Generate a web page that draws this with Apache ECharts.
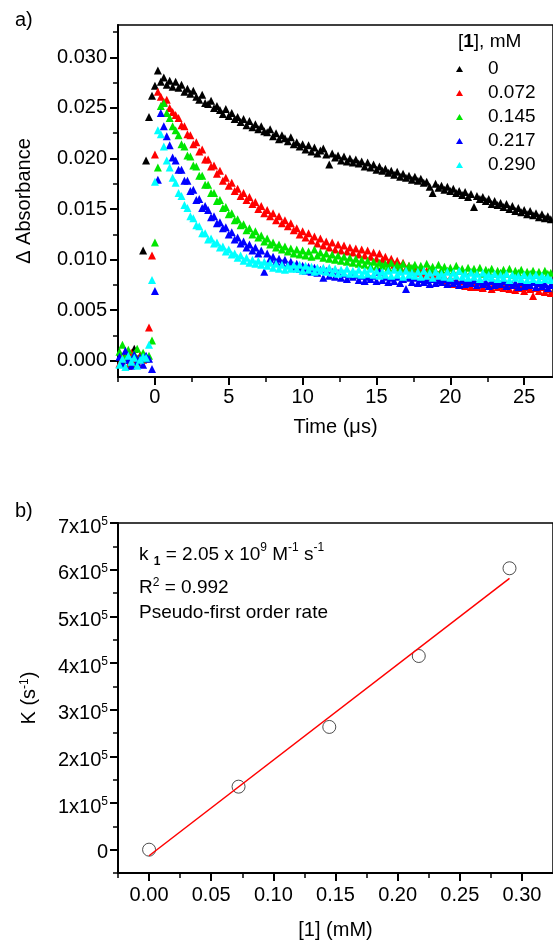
<!DOCTYPE html>
<html><head><meta charset="utf-8">
<script src="https://cdn.jsdelivr.net/npm/echarts@6/dist/echarts.min.js"></script>
<style>html,body{margin:0;padding:0;background:#fff}#c{width:553px;height:941px}</style>
</head><body><div id="c"></div>
<script>
// ---------- Panel a) transient absorbance ----------
const time = [
-2.4,-2.2,-2.0,-1.8,-1.6,-1.4,-1.2,-1.0,-0.8,-0.6,
-0.4,-0.2,0.0,0.2,0.4,0.6,0.8,1.0,1.2,1.4,
1.6,1.8,2.0,2.2,2.4,2.6,2.8,3.0,3.2,3.4,
3.6,3.8,4.0,4.2,4.4,4.6,4.8,5.0,5.2,5.4,
5.6,5.8,6.0,6.2,6.4,6.6,6.8,7.0,7.2,7.4,
7.6,7.8,8.0,8.2,8.4,8.6,8.8,9.0,9.2,9.4,
9.6,9.8,10.0,10.2,10.4,10.6,10.8,11.0,11.2,11.4,
11.6,11.8,12.0,12.2,12.4,12.6,12.8,13.0,13.2,13.4,
13.6,13.8,14.0,14.2,14.4,14.6,14.8,15.0,15.2,15.4,
15.6,15.8,16.0,16.2,16.4,16.6,16.8,17.0,17.2,17.4,
17.6,17.8,18.0,18.2,18.4,18.6,18.8,19.0,19.2,19.4,
19.6,19.8,20.0,20.2,20.4,20.6,20.8,21.0,21.2,21.4,
21.6,21.8,22.0,22.2,22.4,22.6,22.8,23.0,23.2,23.4,
23.6,23.8,24.0,24.2,24.4,24.6,24.8,25.0,25.2,25.4,
25.6,25.8,26.0,26.2,26.4,26.6,26.8];

const abs_0 = [
0.0003,-0.0002,0.0006,0.0001,-0.0004,0.0012,0.0002,0.0005,0.0109,0.0198,
0.0241,0.0262,0.0272,0.0287,0.0276,0.0280,0.0273,0.0277,0.0271,0.0276,
0.0270,0.0273,0.0266,0.0269,0.0264,0.0267,0.0261,0.0258,0.0263,0.0255,
0.0254,0.0257,0.0250,0.0252,0.0248,0.0244,0.0249,0.0242,0.0245,0.0239,
0.0241,0.0236,0.0239,0.0233,0.0237,0.0231,0.0234,0.0229,0.0232,0.0227,
0.0226,0.0229,0.0222,0.0225,0.0219,0.0223,0.0220,0.0217,0.0221,0.0214,
0.0216,0.0212,0.0214,0.0209,0.0213,0.0207,0.0211,0.0205,0.0208,0.0210,
0.0204,0.0194,0.0205,0.0201,0.0203,0.0198,0.0202,0.0197,0.0200,0.0196,
0.0199,0.0195,0.0197,0.0192,0.0196,0.0191,0.0194,0.0189,0.0192,0.0188,
0.0190,0.0186,0.0188,0.0184,0.0187,0.0182,0.0185,0.0181,0.0183,0.0179,
0.0182,0.0178,0.0180,0.0176,0.0177,0.0172,0.0166,0.0175,0.0171,0.0173,
0.0169,0.0172,0.0168,0.0170,0.0166,0.0168,0.0164,0.0167,0.0162,0.0165,
0.0152,0.0163,0.0160,0.0162,0.0158,0.0160,0.0155,0.0158,0.0154,0.0156,
0.0152,0.0155,0.0150,0.0153,0.0148,0.0151,0.0147,0.0149,0.0145,0.0148,
0.0144,0.0146,0.0142,0.0145,0.0141,0.0143,0.0140];

const abs_072 = [
-0.0003,0.0004,0.0001,-0.0005,0.0008,0.0002,-0.0002,0.0005,0.0001,0.0004,
0.0033,0.0104,0.0204,0.0266,0.0261,0.0256,0.0258,0.0250,0.0246,0.0243,
0.0240,0.0233,0.0232,0.0224,0.0223,0.0214,0.0216,0.0207,0.0209,0.0199,
0.0199,0.0192,0.0193,0.0185,0.0188,0.0178,0.0181,0.0173,0.0176,0.0168,
0.0170,0.0163,0.0166,0.0159,0.0162,0.0155,0.0157,0.0150,0.0153,0.0146,
0.0149,0.0143,0.0146,0.0139,0.0143,0.0136,0.0139,0.0133,0.0136,0.0129,
0.0131,0.0125,0.0128,0.0122,0.0126,0.0119,0.0123,0.0116,0.0121,0.0114,
0.0118,0.0112,0.0117,0.0110,0.0115,0.0109,0.0114,0.0108,0.0112,0.0107,
0.0111,0.0105,0.0110,0.0104,0.0109,0.0103,0.0107,0.0101,0.0106,0.0100,
0.0103,0.0097,0.0101,0.0095,0.0099,0.0093,0.0097,0.0091,0.0094,0.0089,
0.0092,0.0087,0.0090,0.0085,0.0089,0.0083,0.0086,0.0081,0.0085,0.0080,
0.0083,0.0078,0.0082,0.0076,0.0080,0.0075,0.0079,0.0074,0.0078,0.0073,
0.0077,0.0073,0.0078,0.0072,0.0076,0.0074,0.0071,0.0077,0.0073,0.0075,
0.0072,0.0076,0.0071,0.0075,0.0070,0.0074,0.0072,0.0069,0.0073,0.0071,
0.0064,0.0072,0.0069,0.0073,0.0068,0.0071,0.0067];

const abs_145 = [
0.0009,0.0016,0.0004,0.0011,-0.0002,0.0007,0.0012,0.0003,0.0008,0.0002,
0.0005,0.0020,0.0117,0.0191,0.0252,0.0255,0.0245,0.0240,0.0232,0.0228,
0.0223,0.0214,0.0212,0.0203,0.0202,0.0193,0.0192,0.0183,0.0183,0.0174,
0.0174,0.0166,0.0166,0.0158,0.0159,0.0151,0.0152,0.0145,0.0146,0.0139,
0.0140,0.0134,0.0135,0.0129,0.0131,0.0125,0.0128,0.0122,0.0124,0.0118,
0.0121,0.0115,0.0117,0.0112,0.0115,0.0110,0.0113,0.0108,0.0111,0.0106,
0.0110,0.0105,0.0109,0.0104,0.0108,0.0103,0.0110,0.0104,0.0107,0.0102,
0.0106,0.0101,0.0105,0.0100,0.0104,0.0099,0.0103,0.0098,0.0102,0.0097,
0.0101,0.0096,0.0100,0.0095,0.0099,0.0094,0.0098,0.0093,0.0097,0.0094,
0.0096,0.0092,0.0097,0.0091,0.0095,0.0092,0.0096,0.0090,0.0094,0.0092,
0.0095,0.0090,0.0094,0.0089,0.0096,0.0091,0.0093,0.0089,0.0095,0.0090,
0.0093,0.0089,0.0092,0.0088,0.0094,0.0089,0.0091,0.0087,0.0092,0.0088,
0.0091,0.0087,0.0092,0.0086,0.0090,0.0088,0.0091,0.0086,0.0089,0.0087,
0.0090,0.0086,0.0091,0.0085,0.0089,0.0087,0.0090,0.0085,0.0088,0.0086,
0.0089,0.0085,0.0088,0.0084,0.0089,0.0086,0.0087];

const abs_217 = [
0.0004,-0.0003,0.0010,0.0001,-0.0005,0.0006,-0.0001,0.0003,-0.0004,0.0005,
0.0002,-0.0008,0.0069,0.0179,0.0245,0.0232,0.0222,0.0213,0.0201,0.0198,
0.0189,0.0189,0.0178,0.0178,0.0168,0.0169,0.0159,0.0160,0.0151,0.0153,
0.0149,0.0142,0.0143,0.0136,0.0137,0.0131,0.0132,0.0125,0.0127,0.0120,
0.0122,0.0116,0.0118,0.0112,0.0115,0.0109,0.0112,0.0106,0.0109,0.0088,
0.0106,0.0101,0.0103,0.0098,0.0101,0.0097,0.0100,0.0095,0.0098,0.0093,
0.0096,0.0091,0.0094,0.0089,0.0093,0.0088,0.0092,0.0087,0.0090,0.0082,
0.0089,0.0084,0.0088,0.0083,0.0087,0.0082,0.0086,0.0081,0.0085,0.0083,
0.0085,0.0080,0.0084,0.0079,0.0083,0.0081,0.0084,0.0079,0.0088,0.0080,
0.0083,0.0078,0.0082,0.0079,0.0083,0.0077,0.0081,0.0071,0.0082,0.0078,
0.0082,0.0077,0.0081,0.0078,0.0080,0.0076,0.0081,0.0077,0.0080,0.0078,
0.0081,0.0076,0.0080,0.0077,0.0079,0.0075,0.0080,0.0076,0.0079,0.0077,
0.0080,0.0075,0.0079,0.0076,0.0078,0.0074,0.0079,0.0075,0.0078,0.0076,
0.0079,0.0074,0.0078,0.0075,0.0077,0.0073,0.0078,0.0074,0.0077,0.0075,
0.0078,0.0073,0.0077,0.0074,0.0076,0.0072,0.0075];

const abs_290 = [
-0.0004,0.0002,-0.0006,0.0005,-0.0001,0.0003,-0.0005,0.0001,0.0004,0.0003,
0.0016,0.0080,0.0177,0.0228,0.0224,0.0212,0.0198,0.0191,0.0181,0.0176,
0.0166,0.0163,0.0154,0.0151,0.0143,0.0141,0.0134,0.0133,0.0126,0.0126,
0.0120,0.0121,0.0116,0.0117,0.0112,0.0113,0.0108,0.0110,0.0105,0.0106,
0.0102,0.0104,0.0099,0.0102,0.0097,0.0100,0.0096,0.0099,0.0095,0.0098,
0.0094,0.0097,0.0092,0.0096,0.0091,0.0095,0.0090,0.0094,0.0091,0.0095,
0.0091,0.0095,0.0089,0.0094,0.0090,0.0093,0.0088,0.0092,0.0089,0.0092,
0.0088,0.0092,0.0087,0.0091,0.0086,0.0090,0.0087,0.0091,0.0086,0.0089,
0.0086,0.0090,0.0085,0.0089,0.0086,0.0091,0.0085,0.0089,0.0084,0.0088,
0.0085,0.0089,0.0084,0.0090,0.0085,0.0088,0.0083,0.0089,0.0085,0.0087,
0.0084,0.0088,0.0083,0.0089,0.0084,0.0087,0.0082,0.0088,0.0084,0.0086,
0.0083,0.0088,0.0082,0.0087,0.0084,0.0089,0.0083,0.0086,0.0082,0.0087,
0.0083,0.0086,0.0081,0.0087,0.0083,0.0085,0.0082,0.0086,0.0081,0.0085,
0.0082,0.0086,0.0080,0.0085,0.0082,0.0084,0.0081,0.0085,0.0080,0.0084,
0.0081,0.0085,0.0080,0.0084,0.0081,0.0083,0.0080];

const seriesNames = ['0', '0.072', '0.145', '0.217', '0.290'];
const seriesValues = [abs_0, abs_072, abs_145, abs_217, abs_290];
const seriesColors = ['#000000', '#ff0000', '#00e600', '#0000ff', '#00ffff'];

const timeTicks = [0, 5, 10, 15, 20, 25];
const timeMinorTicks = [-2.5, 2.5, 7.5, 12.5, 17.5, 22.5];
const absTicks = [0, 0.005, 0.010, 0.015, 0.020, 0.025, 0.030];
const absMinorTicks = [0.0025, 0.0075, 0.0125, 0.0175, 0.0225, 0.0275, 0.0325];

// ---------- Panel b) pseudo-first order rate ----------
const conc = [0, 0.072, 0.145, 0.217, 0.290];
const rateK = [0, 135000, 263000, 415000, 603000];
const fitConc = [0, 0.29];
const fitRate = [-13000, 581500];
const concTicks = [0, 0.05, 0.10, 0.15, 0.20, 0.25, 0.30];
const concMinorTicks = [-0.025, 0.025, 0.075, 0.125, 0.175, 0.225, 0.275];
const rateTicks = [0, 100000, 200000, 300000, 400000, 500000, 600000, 700000];
const rateMinorTicks = [-50000, 50000, 150000, 250000, 350000, 450000, 550000, 650000];

const FONT = "'Liberation Sans', Arial, sans-serif";
const chart = echarts.init(document.getElementById('c'), null, {renderer: 'canvas'});

const baseAxis = {
  axisLine: {show: true, onZero: false, lineStyle: {color: '#000', width: 2}},
  splitLine: {show: false},
  axisTick: {show: true, inside: false, length: 8, lineStyle: {color: '#000', width: 2}},
  axisLabel: {color: '#000', fontSize: 20, fontFamily: FONT},
  nameTextStyle: {color: '#000', fontSize: 20, fontFamily: FONT}
};
function minorAxis(extra) {
  return Object.assign({
    axisLine: {show: false, onZero: false},
    splitLine: {show: false},
    axisLabel: {show: false}
  }, extra);
}
function minorTick(vals) {
  return {show: true, inside: false, length: 5, customValues: vals, lineStyle: {color: '#000', width: 1.5}};
}

const supRich = {
  z: {fontSize: 20, fontFamily: FONT, color: '#000', lineHeight: 22, padding: [6, 0, 0, 0]},
  m: {fontSize: 20, fontFamily: FONT, color: '#000', lineHeight: 22, padding: [8, 0, 0, 0]},
  s: {fontSize: 12, fontFamily: FONT, color: '#000', verticalAlign: 'top', lineHeight: 14, padding: [4, 0, 0, 0]}
};
const nameRich = {
  s: {fontSize: 12, fontFamily: FONT, color: '#000', verticalAlign: 'top', lineHeight: 14}
};

const option = {
  backgroundColor: '#fff',
  animation: false,
  textStyle: {fontFamily: FONT},
  grid: [
    {left: 118, top: 25, width: 437, height: 352, show: true, borderColor: '#000', borderWidth: 1.5, containLabel: false},
    {left: 118, top: 523, width: 437, height: 351, show: true, borderColor: '#000', borderWidth: 1.5, containLabel: false}
  ],
  xAxis: [
    Object.assign({}, baseAxis, {
      type: 'value', gridIndex: 0, position: 'bottom', min: -2.5, max: 26.95,
      name: 'Time (\u03bcs)', nameLocation: 'middle', nameGap: 40,
      axisTick: Object.assign({}, baseAxis.axisTick, {customValues: timeTicks}),
      axisLabel: Object.assign({}, baseAxis.axisLabel, {customValues: timeTicks, margin: 10})
    }),
    minorAxis({type: 'value', gridIndex: 0, position: 'bottom', min: -2.5, max: 26.95,
      axisTick: minorTick(timeMinorTicks)}),
    Object.assign({}, baseAxis, {
      type: 'value', gridIndex: 1, position: 'bottom', min: -0.025, max: 0.325,
      name: '[1] (mM)', nameLocation: 'middle', nameGap: 47,
      axisTick: Object.assign({}, baseAxis.axisTick, {customValues: concTicks}),
      axisLabel: Object.assign({}, baseAxis.axisLabel, {customValues: concTicks, margin: 12,
        formatter: v => v.toFixed(2)})
    }),
    minorAxis({type: 'value', gridIndex: 1, position: 'bottom', min: -0.025, max: 0.325,
      axisTick: minorTick(concMinorTicks)})
  ],
  yAxis: [
    Object.assign({}, baseAxis, {
      type: 'value', gridIndex: 0, position: 'left', min: -0.0016, max: 0.0332,
      name: '\u0394 Absorbance', nameLocation: 'middle', nameRotate: 90, nameGap: 84,
      axisTick: Object.assign({}, baseAxis.axisTick, {customValues: absTicks}),
      axisLabel: Object.assign({}, baseAxis.axisLabel, {customValues: absTicks, margin: 11,
        formatter: v => v.toFixed(3)})
    }),
    minorAxis({type: 'value', gridIndex: 0, position: 'left', min: -0.0016, max: 0.0332,
      axisTick: minorTick(absMinorTicks)}),
    Object.assign({}, baseAxis, {
      type: 'value', gridIndex: 1, position: 'left', min: -50000, max: 700000,
      name: 'K (s{s|-1})', nameLocation: 'middle', nameRotate: 90, nameGap: 79,
      nameTextStyle: {color: '#000', fontSize: 20, fontFamily: FONT, rich: nameRich},
      axisTick: Object.assign({}, baseAxis.axisTick, {customValues: rateTicks}),
      axisLabel: Object.assign({}, baseAxis.axisLabel, {customValues: rateTicks, margin: 10,
        formatter: v => v === 0 ? '{z|0}' : '{m|' + Math.round(v / 100000) + 'x10}{s|5}',
        rich: supRich})
    }),
    minorAxis({type: 'value', gridIndex: 1, position: 'left', min: -50000, max: 700000,
      axisTick: minorTick(rateMinorTicks)})
  ],
  legend: {
    data: seriesNames,
    orient: 'vertical',
    left: 456, top: 59,
    padding: 0,
    itemGap: 4,
    itemWidth: 7, itemHeight: 6,
    icon: 'triangle',
    selectedMode: false,
    formatter: name => '{g|}' + name,
    textStyle: {color: '#000', fontSize: 19, fontFamily: FONT, lineHeight: 20,
      rich: {g: {width: 20}}}
  },
  graphic: [
    {type: 'text', left: 15, top: 10, style: {text: 'a)', fontSize: 20, fontFamily: FONT, fill: '#000'}},
    {type: 'text', left: 15, top: 501, style: {text: 'b)', fontSize: 20, fontFamily: FONT, fill: '#000'}},
    {type: 'text', left: 458, top: 32, style: {
      text: '[{b|1}], mM', fontSize: 19, fontFamily: FONT, fill: '#000',
      rich: {b: {fontSize: 19, fontFamily: FONT, fontWeight: 'bold', fill: '#000'}}}},
    {type: 'text', left: 139, top: 542, style: {
      text: 'k {sb|1} = 2.05 x 10{sp|9} M{sp|-1} s{sp|-1}', fontSize: 19, fontFamily: FONT, fill: '#000',
      rich: {
        sb: {fontSize: 12, fontWeight: 'bold', fontFamily: FONT, fill: '#000', verticalAlign: 'bottom', lineHeight: 26},
        sp: {fontSize: 12, fontFamily: FONT, fill: '#000', verticalAlign: 'top', lineHeight: 22}
      }}},
    {type: 'text', left: 139, top: 577, style: {
      text: 'R{sp|2} = 0.992', fontSize: 19, fontFamily: FONT, fill: '#000',
      rich: {sp: {fontSize: 12, fontFamily: FONT, fill: '#000', verticalAlign: 'top', lineHeight: 22}}}},
    {type: 'text', left: 139, top: 603, style: {
      text: 'Pseudo-first order rate', fontSize: 19, fontFamily: FONT, fill: '#000'}}
  ],
  series: seriesNames.map((n, i) => ({
    name: n, type: 'scatter', xAxisIndex: 0, yAxisIndex: 0,
    symbol: 'triangle', symbolSize: 8,
    itemStyle: {color: seriesColors[i], opacity: 1},
    emphasis: {disabled: true},
    data: time.map((t, k) => [t, seriesValues[i][k]])
  })).concat([
    {
      name: 'fit', type: 'line', xAxisIndex: 2, yAxisIndex: 2,
      showSymbol: false, symbol: 'none',
      lineStyle: {color: '#ff0000', width: 1.5},
      data: fitConc.map((x, k) => [x, fitRate[k]])
    },
    {
      name: 'K', type: 'scatter', xAxisIndex: 2, yAxisIndex: 2,
      symbol: 'circle', symbolSize: 13,
      itemStyle: {color: 'rgba(0,0,0,0)', borderColor: '#222', borderWidth: 1},
      data: conc.map((x, k) => [x, rateK[k]])
    }
  ])
};
chart.setOption(option);
</script></body></html>
